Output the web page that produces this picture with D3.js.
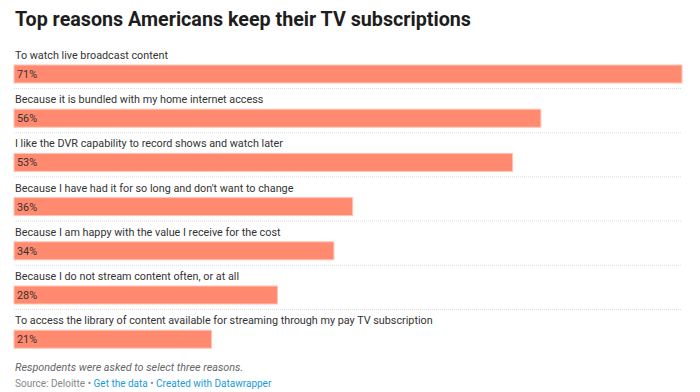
<!DOCTYPE html>
<html lang="en">
<head>
    <meta charset="UTF-8">
    <title>Top reasons Americans keep their TV subscriptions</title>
    <script src="https://d3js.org/d3.v7.min.js"></script>
    <style type="text/css">
        body {
            margin: 0;
            background: #fff;
        }
        svg {
            display: block;
            font-family: Roboto, "Noto Sans", sans-serif;
        }
        .label { font-size: 10.8px; fill: #333; }
        .value { font-size: 10.8px; fill: #333; }
        .note { font-size: 10.8px; fill: #666; font-style: italic; }
        .source { font-size: 10px; fill: #888; }
        .link { fill: #1a9bd7; }
    </style>
</head>
<body>
    <div id="chart"></div>
    <script type="text/javascript">
        var title = 'Top reasons Americans keep their TV subscriptions';
        var reasons = [
            'To watch live broadcast content',
            'Because it is bundled with my home internet access',
            'I like the DVR capability to record shows and watch later',
            "Because I have had it for so long and don't want to change",
            'Because I am happy with the value I receive for the cost',
            'Because I do not stream content often, or at all',
            'To access the library of content available for streaming through my pay TV subscription'
        ];
        var shares = [71, 56, 53, 36, 34, 28, 21];
        var note = 'Respondents were asked to select three reasons.';

        var w = 700, h = 392;
        var left = 14, right = 682;

        var svg = d3.select('#chart').append('svg')
            .attr('width', w)
            .attr('height', h);

        svg.append('text')
            .attr('x', 15)
            .attr('y', 26)
            .attr('font-size', '19.7px')
            .attr('font-weight', 'bold')
            .attr('fill', '#1d1d1d')
            .text(title);

        var xScale = d3.scaleLinear()
            .domain([0, d3.max(shares)])
            .range([left, right]);

        var yScale = d3.scaleBand()
            .domain(reasons)
            .range([42, 42 + 44.2 * reasons.length])
            .padding(0);

        var rows = svg.selectAll('g.row')
            .data(reasons)
            .enter()
            .append('g')
            .attr('class', 'row')
            .attr('transform', function (d) {
                return 'translate(0,' + yScale(d) + ')';
            });

        rows.append('text')
            .attr('class', 'label')
            .attr('x', 15)
            .attr('y', 17)
            .text(function (d) { return d; });

        rows.append('rect')
            .attr('x', xScale(0))
            .attr('y', 23)
            .attr('width', function (d, i) { return xScale(shares[i]) - xScale(0); })
            .attr('height', 18)
            .attr('fill', '#ff8a6f')
            .attr('stroke', '#ffc4b5')
            .attr('stroke-width', 1);

        rows.append('text')
            .attr('class', 'value')
            .attr('x', 17)
            .attr('y', 36)
            .text(function (d, i) { return shares[i] + '%'; });

        // dotted separators between rows (none after the last one)
        rows.filter(function (d, i) { return i < reasons.length - 1; })
            .append('line')
            .attr('x1', left)
            .attr('x2', right)
            .attr('y1', 46.5)
            .attr('y2', 46.5)
            .attr('stroke', '#ddd')
            .attr('stroke-dasharray', '1,1');

        svg.append('text')
            .attr('class', 'note')
            .attr('x', 15)
            .attr('y', 371)
            .text(note);

        var src = svg.append('text')
            .attr('class', 'source')
            .attr('x', 15)
            .attr('y', 387);
        src.append('tspan').text('Source: Deloitte \u2022 ');
        src.append('tspan').attr('class', 'link').text('Get the data');
        src.append('tspan').text(' \u2022 ');
        src.append('tspan').attr('class', 'link').text('Created with Datawrapper');
    </script>
</body>
</html>
